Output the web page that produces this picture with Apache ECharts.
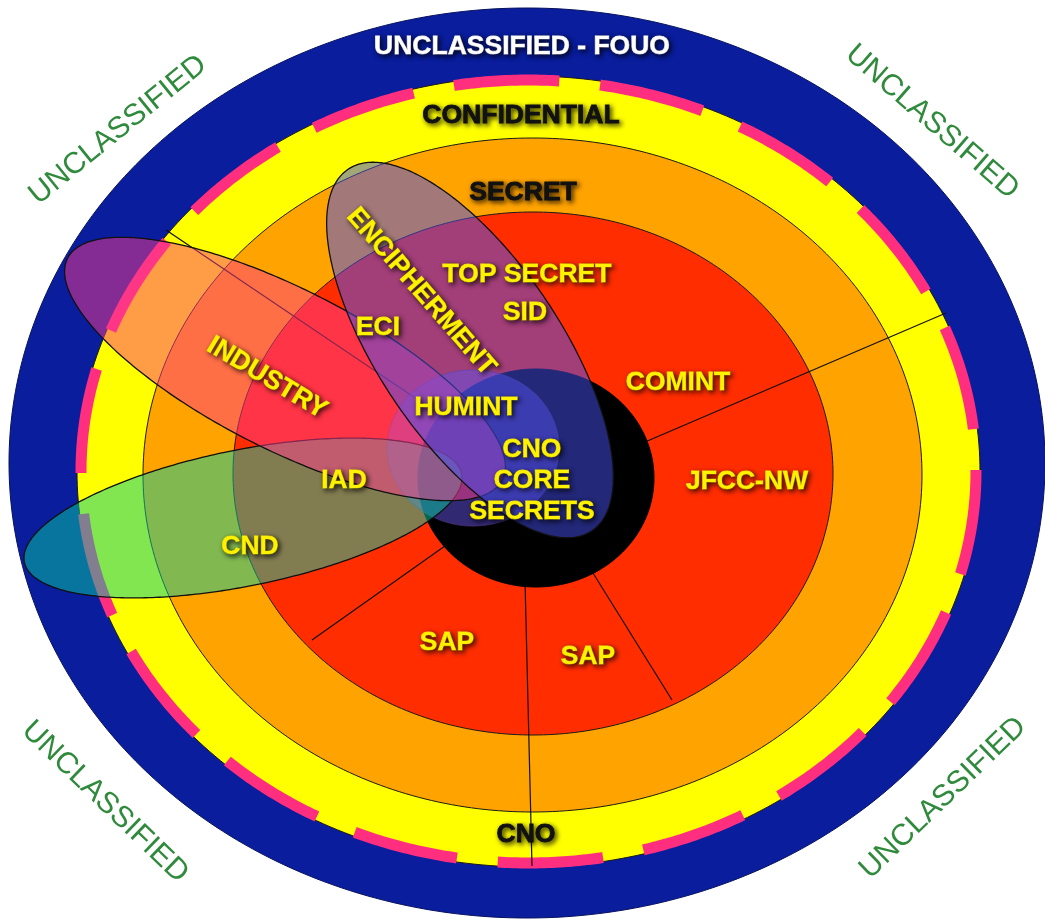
<!DOCTYPE html>
<html><head><meta charset="utf-8">
<script src="https://cdn.jsdelivr.net/npm/echarts@6/dist/echarts.min.js"></script>
<style>html,body{margin:0;padding:0;background:#fff}#c{width:1045px;height:922px}</style>
</head><body><div id="c"></div>
<script>
// ---- data: classification rings (centre x, centre y, radius x, radius y) ----
const ringNames = ['UNCLASSIFIED - FOUO', 'CONFIDENTIAL', 'SECRET', 'TOP SECRET'];
const ringCx = [527, 528.5, 532.5, 533];
const ringCy = [463, 471.5, 475, 473.5];
const ringRx = [518, 451.5, 389.5, 300];
const ringRy = [455, 395.5, 337, 261.5];
const coreGeom = [536, 478, 118, 109];           // CNO CORE SECRETS black core
// ---- overlapping programme ellipses (cx, cy, semi-major, semi-minor, tilt deg) ----
const overlayNames = ['HUMINT', 'CND', 'INDUSTRY', 'ENCIPHERMENT'];
const overlayCx = [473, 243, 285, 470];
const overlayCy = [448, 518, 369, 350];
const overlayA = [86, 223, 244, 218];
const overlayB = [78, 68, 80, 91];
const overlayTilt = [0, -11.4, 27, 56];
// ---- compartment divider lines (x1, y1, x2, y2) ----
const dividerX1 = [166, 946, 532, 672, 312];
const dividerY1 = [230, 313, 866, 700, 640];
const dividerX2 = [540, 540, 524, 560, 510];
const dividerY2 = [482, 487, 540, 520, 500];
// ---- labels ----
const labelText = ['UNCLASSIFIED - FOUO', 'CONFIDENTIAL', 'SECRET', 'TOP SECRET', 'SID', 'ECI', 'ENCIPHERMENT',
  'INDUSTRY', 'COMINT', 'HUMINT', 'CNO', 'CORE', 'SECRETS', 'JFCC-NW', 'IAD', 'CND', 'SAP', 'SAP', 'CNO'];
const labelX = [522, 521, 523, 527, 525, 378, 421, 267, 678, 466, 532, 532, 532, 747, 344, 250, 447, 588, 526];
const labelY = [47, 116, 193, 275, 313, 328, 292, 378, 383, 408, 450, 481, 512, 482, 481, 547, 643, 657, 835];
const labelRot = [0, 0, 0, 0, 0, 0, -49, -31, 0, 0, 0, 0, 0, 0, 0, 0, 0, 0, 0];
const labelKind = [2, 1, 1, 0, 0, 0, 0, 0, 0, 0, 0, 0, 0, 0, 0, 0, 0, 0, 1];
const cornerText = ['UNCLASSIFIED', 'UNCLASSIFIED', 'UNCLASSIFIED', 'UNCLASSIFIED'];
const cornerX = [118, 932, 105, 943];
const cornerY = [130, 122, 802, 798];
const cornerRot = [39, -41, -44, 44];

// ---- styles ----
const ringColors = ['#0a1d9c', '#ffff00', '#ffa300', '#ff2d00'];
const overlayColors = ['rgba(110,90,255,0.45)', 'rgba(5,205,160,0.5)', 'rgba(255,60,140,0.5)', 'rgba(70,80,240,0.5)'];
const overlayStroke = ['rgba(90,60,140,0.45)', '#111', '#111', '#111'];
const labelFill = ['#fff200', '#111', '#ffffff'];
const FONT = '"Liberation Sans", Arial, sans-serif';

function ellipsePts(api, cx, cy, a, b, deg, n, close) {
  const th = deg * Math.PI / 180, c = Math.cos(th), s = Math.sin(th), pts = [];
  for (let k = 0; k < n + (close ? 1 : 0); k++) {
    const t = 2 * Math.PI * k / n, ex = a * Math.cos(t), ey = b * Math.sin(t);
    pts.push(api.coord([cx + ex * c - ey * s, cy + ex * s + ey * c]));
  }
  return pts;
}

const chart = echarts.init(document.getElementById('c'), null, {renderer: 'canvas'});
chart.setOption({
  animation: false,
  backgroundColor: '#ffffff',
  grid: {left: 0, right: 0, top: 0, bottom: 0},
  xAxis: {type: 'value', min: 0, max: 1045, show: false},
  yAxis: {type: 'value', min: 0, max: 922, inverse: true, show: false},
  series: [
    { // rings
      type: 'custom', z: 1, silent: true,
      data: ringNames.map((n, i) => [ringCx[i], ringCy[i], ringRx[i], ringRy[i]]),
      renderItem: (p, api) => {
        const i = p.dataIndex;
        return {type: 'polygon', z2: i,
          shape: {points: ellipsePts(api, api.value(0), api.value(1), api.value(2), api.value(3), 0, 360)},
          style: {fill: ringColors[i], stroke: i === 0 ? '#06125e' : '#1a1a1a', lineWidth: 1}};
      }
    },
    { // pink dashed border on the confidential ring
      type: 'custom', z: 2, silent: true,
      data: [[ringCx[1], ringCy[1], ringRx[1], ringRy[1]]],
      renderItem: (p, api) => {
        const pts = ellipsePts(api, api.value(0), api.value(1), api.value(2) - 4, api.value(3) - 4, 0, 720, true);
        let L = 0, Ltop = 0;
        for (let k = 1; k < pts.length; k++) {
          L += Math.hypot(pts[k][0] - pts[k - 1][0], pts[k][1] - pts[k - 1][1]);
          if (k === 540) Ltop = L;
        }
        const P = L / 18, d = P * 0.72;
        const centre = Ltop - 22;
        let off = ((d / 2 - centre) % P + P) % P;
        return {type: 'polyline', shape: {points: pts},
          style: {fill: null, stroke: '#ff2e7e', lineWidth: 11, lineDash: [d, P - d], lineDashOffset: off}};
      }
    },
    { // dividers
      type: 'custom', z: 3, silent: true,
      data: dividerX1.map((x, i) => [x, dividerY1[i], dividerX2[i], dividerY2[i]]),
      renderItem: (p, api) => {
        const a = api.coord([api.value(0), api.value(1)]), b = api.coord([api.value(2), api.value(3)]);
        return {type: 'line', shape: {x1: a[0], y1: a[1], x2: b[0], y2: b[1]}, style: {stroke: '#111', lineWidth: 1.2}};
      }
    },
    { // black core
      type: 'custom', z: 4, silent: true,
      data: [coreGeom],
      renderItem: (p, api) => ({type: 'polygon',
        shape: {points: ellipsePts(api, api.value(0), api.value(1), api.value(2), api.value(3), 0, 360)},
        style: {fill: '#000', stroke: '#000', lineWidth: 1}})
    },
    { // overlapping programme ellipses
      type: 'custom', z: 5, silent: true,
      data: overlayNames.map((n, i) => [overlayCx[i], overlayCy[i], overlayA[i], overlayB[i], overlayTilt[i]]),
      renderItem: (p, api) => {
        const i = p.dataIndex;
        return {type: 'polygon', z2: i,
          shape: {points: ellipsePts(api, api.value(0), api.value(1), api.value(2), api.value(3), api.value(4), 360)},
          style: {fill: overlayColors[i], stroke: overlayStroke[i], lineWidth: 1.3}};
      }
    },
    { // labels
      type: 'custom', z: 6, silent: true,
      data: labelText.map((t, i) => [labelX[i], labelY[i], labelRot[i]]),
      renderItem: (p, api) => {
        const i = p.dataIndex, c = api.coord([api.value(0), api.value(1)]);
        const k = labelKind[i];
        return {type: 'text', x: c[0], y: c[1], rotation: api.value(2) * Math.PI / 180,
          style: {text: labelText[i], fill: labelFill[k], stroke: labelFill[k], lineWidth: 0.8,
            font: 'bold 26.5px ' + FONT,
            align: 'center', verticalAlign: 'middle',
            textShadowColor: 'rgba(0,0,0,0.8)', textShadowBlur: 5,
            textShadowOffsetX: 2, textShadowOffsetY: 2}};
      }
    },
    { // corner UNCLASSIFIED marks
      type: 'custom', z: 6, silent: true,
      data: cornerText.map((t, i) => [cornerX[i], cornerY[i], cornerRot[i]]),
      renderItem: (p, api) => {
        const i = p.dataIndex, c = api.coord([api.value(0), api.value(1)]);
        return {type: 'text', x: c[0], y: c[1], rotation: api.value(2) * Math.PI / 180,
          style: {text: cornerText[i], fill: '#2f8a3c', font: '30px ' + FONT, align: 'center', verticalAlign: 'middle'}};
      }
    }
  ]
});
</script></body></html>
